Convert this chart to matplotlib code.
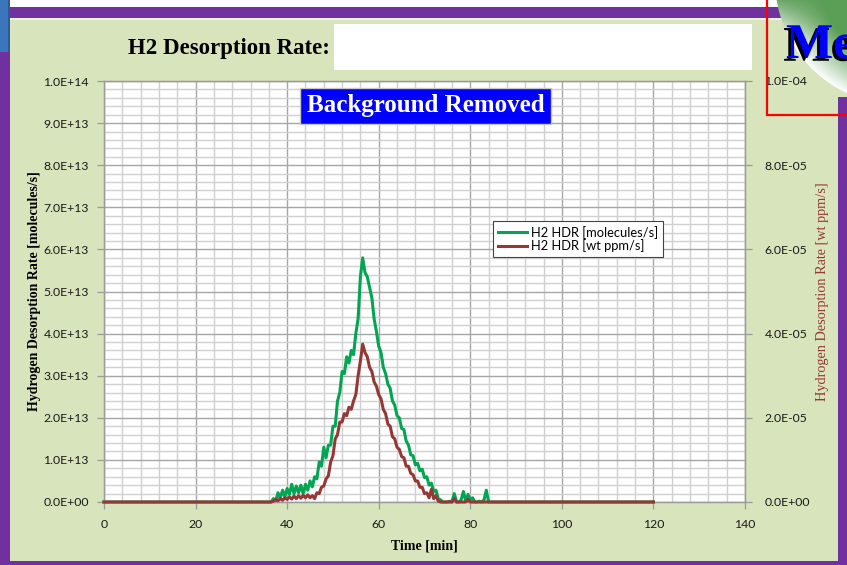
import numpy as np
import matplotlib
matplotlib.use("Agg")
import matplotlib.pyplot as plt
import matplotlib.patheffects as pe
from matplotlib.patches import Rectangle, Circle
from matplotlib.ticker import MultipleLocator, FuncFormatter

# ---------------- data ----------------
# sampled times [min] of the desorption window (0.5 min spacing), plus baseline ends
peak_window_min = list(np.arange(36.0, 85.01, 0.5))
time_min = [0.0] + peak_window_min + [120.0]

# H2 HDR [molecules/s] in units of 1e13
green_e13 = [
    0, 0, 0.08, 0.02, 0.22, 0.10, 0.28, 0.12, 0.32, 0.18,
    0.42, 0.20, 0.38, 0.22, 0.40, 0.20, 0.42, 0.28, 0.50, 0.36,
    0.60, 0.55, 0.95, 0.85, 1.30, 1.05, 1.35, 1.35, 1.80, 1.80,
    2.40, 2.60, 3.10, 3.05, 3.45, 3.30, 3.60, 3.50, 4.00, 4.35,
    5.35, 5.80, 5.45, 5.35, 5.10, 4.85, 4.35, 4.05, 3.70, 3.55,
    3.20, 3.05, 2.80, 2.70, 2.40, 2.30, 2.05, 2.00, 1.75, 1.72,
    1.45, 1.35, 1.12, 1.10, 0.88, 0.92, 0.74, 0.78, 0.58, 0.60,
    0.40, 0.45, 0.25, 0.28, 0.08, 0.05, 0, 0, 0, 0.02,
    0, 0.20, 0, 0, 0.05, 0.25, 0.02, 0.18, 0.05, 0.10,
    0, 0, 0.02, 0, 0.05, 0.28, 0, 0, 0,
]
# H2 HDR [wt ppm/s] in units of 1e-5
red_e5 = [
    0, 0, 0.02, 0.06, 0.03, 0.08, 0.04, 0.10, 0.06, 0.12,
    0.07, 0.14, 0.08, 0.15, 0.09, 0.16, 0.10, 0.17, 0.10, 0.15,
    0.08, 0.22, 0.20, 0.35, 0.38, 0.55, 0.62, 0.95, 1.10, 1.50,
    1.60, 1.90, 1.90, 2.10, 2.05, 2.25, 2.20, 2.40, 2.55, 3.00,
    3.35, 3.75, 3.55, 3.45, 3.20, 3.10, 2.85, 2.75, 2.55, 2.45,
    2.20, 2.10, 1.85, 1.80, 1.55, 1.50, 1.30, 1.25, 1.08, 1.05,
    0.85, 0.85, 0.68, 0.65, 0.50, 0.50, 0.35, 0.35, 0.20, 0.22,
    0.10, 0.30, 0.08, 0.15, 0.02, 0, 0, 0, 0, 0,
    0, 0.08, 0, 0, 0, 0, 0, 0.06, 0, 0,
    0, 0, 0, 0, 0, 0, 0, 0, 0,
]
assert len(green_e13) == len(peak_window_min) == len(red_e5)
green_full = [0.0] + green_e13 + [0.0]
red_full = [0.0] + red_e5 + [0.0]

series_labels = ["H2 HDR [molecules/s]", "H2 HDR [wt ppm/s]"]
x_ticks = [0, 20, 40, 60, 80, 100, 120, 140]

# ---------------- style ----------------
W, H = 847, 565
BG = "#d8e4bc"
PURPLE = "#7030a0"
GREEN = "#00a651"
RED = "#953735"
SERIF = "Liberation Serif"
SANS = "Lato"

fig = plt.figure(figsize=(W / 100, H / 100), dpi=100, facecolor=BG)


def fr(x0, y0, x1, y1):
    return (x0 / W, 1 - y1 / H), (x1 - x0) / W, (y1 - y0) / H


def rect(x0, y0, x1, y1, color, z=-5, **kw):
    xy, w, h = fr(x0, y0, x1, y1)
    r = Rectangle(xy, w, h, transform=fig.transFigure, facecolor=color,
                  edgecolor="none", zorder=z, **kw)
    fig.add_artist(r)
    return r


# frame decorations
rect(0, 0, W, 7, "white")
rect(0, 7, W, 18, PURPLE)
rect(0, 18, W, 19.5, "#eef2e4")
rect(0, 18, 10, H, PURPLE)
rect(838, 97, W, H, PURPLE)
rect(0, 561, W, H, PURPLE)
rect(0, 0, 10, 52, "#3b76bd", z=-4)
rect(8, 0, 10, 52, "#2c5a93", z=-4)

# title
fig.text(128 / W, 1 - 54 / H, "H2 Desorption Rate:", family=SERIF,
         fontweight="bold", fontsize=16.5, color="black", ha="left",
         va="baseline")
rect(334, 24, 752, 70, "white", z=5)

# ---------------- main axes ----------------
ax = fig.add_axes([104 / W, 1 - 502 / H, (745 - 104) / W, (502 - 81) / H])
ax.set_facecolor("white")
ax2 = ax.twinx()

ax.plot(time_min, np.array(green_full) * 1e13, color=GREEN, lw=2.2,
        label=series_labels[0], clip_on=False, zorder=3)
ax2.plot(time_min, np.array(red_full) * 1e-5, color=RED, lw=2.2,
         label=series_labels[1], clip_on=False, zorder=3)

ax.set_xlim(0, 140)
ax.set_ylim(0, 1e14)
ax2.set_ylim(0, 1e-4)

ax.xaxis.set_major_locator(MultipleLocator(20))
ax.xaxis.set_minor_locator(MultipleLocator(4))
ax.yaxis.set_major_locator(MultipleLocator(1e13))
ax.yaxis.set_minor_locator(MultipleLocator(2e12))
ax2.yaxis.set_major_locator(MultipleLocator(2e-5))

ax.set_xticks(x_ticks)
ax.yaxis.set_major_formatter(FuncFormatter(lambda v, p: "%.1E" % v))
ax2.yaxis.set_major_formatter(FuncFormatter(lambda v, p: "%.1E" % v))
ax.yaxis.get_offset_text().set_visible(False)
ax2.yaxis.get_offset_text().set_visible(False)

ax.grid(which="major", color="#a6a6a6", lw=1.0, zorder=0)
ax.grid(which="minor", color="#d0d0d0", lw=1.0, zorder=0)
ax.set_axisbelow(True)

for a in (ax, ax2):
    for s in a.spines.values():
        s.set_color("#9a9a9a")
        s.set_linewidth(0.9)
    a.tick_params(which="minor", length=0)
    a.tick_params(which="major", length=5, width=0.9, color="#9a9a9a",
                  labelsize=8.8, labelcolor="#1a1a1a")
    for lab in a.get_xticklabels() + a.get_yticklabels():
        lab.set_family(SANS)
ax.tick_params(axis="y", pad=6)
ax.tick_params(axis="x", pad=7)
ax2.tick_params(axis="y", pad=9)

ax.set_xlabel("Time [min]", family=SERIF, fontweight="bold", fontsize=10,
              labelpad=7)
ax.set_ylabel("Hydrogen Desorption Rate [molecules/s]", family=SERIF,
              fontweight="bold", fontsize=10, labelpad=1.5)
ax2.set_ylabel("Hydrogen Desorption Rate [wt ppm/s]", family=SERIF,
               fontsize=10.3, color=RED, labelpad=4)

# badge
ax.text((296 + 555) / 2 / W, 1 - 105.5 / H, "Background Removed",
        transform=fig.transFigure, family=SERIF, fontweight="bold",
        fontsize=18, color="white", ha="center", va="center", zorder=10,
        bbox=dict(boxstyle="square,pad=0.26", facecolor="#0000ff",
                  edgecolor="#c8c8c8", linewidth=1.0))

# legend
h1, l1 = ax.get_legend_handles_labels()
h2, l2 = ax2.get_legend_handles_labels()
leg = ax2.legend(h1 + h2, l1 + l2, loc="upper left",
                 bbox_to_anchor=(0.607, 0.667), frameon=True, fancybox=False,
                 prop={"family": SANS, "size": 9.3}, handlelength=2.3,
                 handletextpad=0.3, borderpad=0.35, labelspacing=0.05,
                 borderaxespad=0)
leg.get_frame().set_edgecolor("#444444")
leg.get_frame().set_linewidth(0.8)
leg.get_frame().set_facecolor("white")
leg.get_frame().set_alpha(1)
for ln in leg.get_lines():
    ln.set_linewidth(2.2)

# ---------------- top-right logo fragment ----------------
lax = fig.add_axes([760 / W, 1 - 120 / H, (W - 760) / W, 120 / H], zorder=20)
lax.set_xlim(760, W)
lax.set_ylim(120, 0)
lax.axis("off")
lax.patch.set_alpha(0)
cx, cy, cr = 900.0, -20.0, 125.0
yy, xx = np.mgrid[0:120, 760:W]
inside = cr - np.hypot(xx - cx, yy - cy)
t = np.clip(1 - inside / 45.0, 0, 1) * np.clip((yy + 5) / 45.0, 0, 1)
g0 = np.array([0.36, 0.62, 0.34])
img = g0[None, None, :] * (1 - t[..., None]) + np.ones(3)[None, None, :] * t[..., None]
im = lax.imshow(img, extent=(760, W, 120, 0), aspect="auto", zorder=1)
circ = Circle((cx, cy), cr, transform=lax.transData, facecolor="none",
              edgecolor="none")
lax.add_patch(circ)
im.set_clip_path(circ)
lax.text(786, 58, "Me", family=SERIF, fontweight="bold", fontsize=36,
         color="#0000ff", ha="left", va="baseline", zorder=4,
         path_effects=[pe.withSimplePatchShadow(offset=(-2, -2),
                                                shadow_rgbFace="black",
                                                alpha=1.0)])
lax.add_patch(Rectangle((767, -5), 100, 120, facecolor="none",
                        edgecolor="#ff0000", linewidth=1.6, zorder=5,
                        clip_on=False))

fig.savefig("out.png", dpi=100, facecolor=BG)
